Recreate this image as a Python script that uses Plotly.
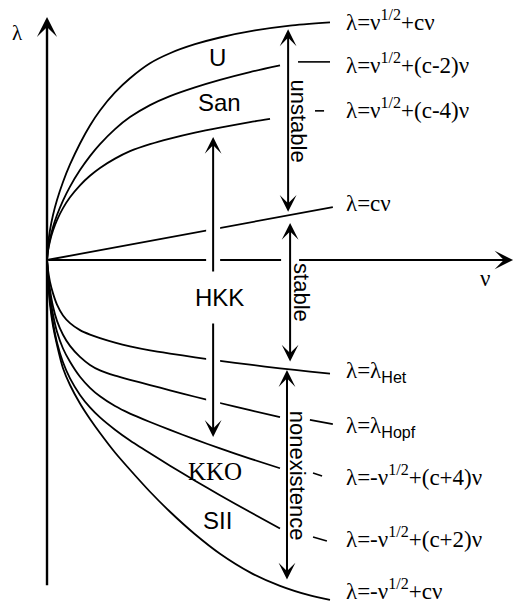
import plotly.graph_objects as go

# ---- boundary curves lambda(nu), sampled along each branch ----
nu_grid = [0, 0.035, 0.106, 0.212, 0.353, 0.565, 0.813, 1.166, 1.519, 1.873,
           2.403, 2.933, 3.640, 4.346, 5.230, 6.113, 7.173, 8.233]

nu_u = [0, 0.035, 0.106, 0.212, 0.353, 0.565, 0.813, 1.166, 1.519, 1.873,
        2.403, 2.933, 3.640, 4.346, 5.230, 6.113, 7.350, 8.587, 10.0]
lam_u = [0, 0.530, 1.060, 1.590, 2.120, 2.756, 3.375, 4.117, 4.753, 5.283,
         5.919, 6.422, 6.952, 7.306, 7.624, 7.862, 8.110, 8.283, 8.396]

nu_u2 = nu_grid
lam_u2 = [0, 0.353, 0.742, 1.166, 1.590, 2.099, 2.594, 3.177, 3.671, 4.095,
          4.625, 5.049, 5.473, 5.792, 6.101, 6.366, 6.641, 6.875]

nu_u4 = nu_grid[:-1] + [7.880]
lam_u4 = [0, 0.318, 0.671, 1.042, 1.410, 1.834, 2.217, 2.641, 2.977, 3.253,
          3.581, 3.846, 4.094, 4.292, 4.504, 4.680, 4.871, 4.984]

nu_c = [0, 10.1]
lam_c = [0, 1.87]

nu_het = nu_grid + [9.293, 10.0]
lam_het = [0, -0.353, -0.777, -1.180, -1.576, -1.958, -2.230, -2.477, -2.636, -2.760,
           -2.919, -3.051, -3.193, -3.306, -3.438, -3.562, -3.700, -3.827, -3.943, -4.014]

nu_hopf = nu_grid
lam_hopf = [0, -0.495, -1.060, -1.643, -2.152, -2.640, -3.035, -3.424, -3.707, -3.901,
            -4.087, -4.235, -4.419, -4.603, -4.832, -5.053, -5.307, -5.551]

nu_l4 = nu_grid
lam_l4 = [0, -0.565, -1.237, -1.926, -2.534, -3.127, -3.597, -4.127, -4.516, -4.816,
          -5.161, -5.426, -5.723, -6.005, -6.341, -6.659, -7.019, -7.359]

nu_l2 = nu_grid
lam_l2 = [0, -0.636, -1.413, -2.208, -2.915, -3.615, -4.184, -4.767, -5.208, -5.562,
          -5.996, -6.378, -6.830, -7.269, -7.799, -8.311, -8.905, -9.488]

nu_l = nu_grid + [9.293, 10.0]
lam_l = [0, -0.707, -1.590, -2.332, -3.004, -3.823, -4.417, -5.071, -5.618, -6.113,
         -6.802, -7.412, -8.189, -8.896, -9.691, -10.380, -11.037, -11.514, -11.853, -12.009]

curves = [
    (nu_u, lam_u), (nu_u2, lam_u2), (nu_u4, lam_u4), (nu_c, lam_c),
    (nu_het, lam_het), (nu_hopf, lam_hopf), (nu_l4, lam_l4), (nu_l2, lam_l2), (nu_l, lam_l),
]

# ---- curve labels on the right: text, lambda level, leader dash (nu0, lam0, nu1, lam1) ----
SANS_SUB = "<sub><span style='font-family:Liberation Sans'>{}</span></sub>"
label_texts = [
    "λ=ν<sup>1/2</sup>+cν",
    "λ=ν<sup>1/2</sup>+(c-2)ν",
    "λ=ν<sup>1/2</sup>+(c-4)ν",
    "λ=cν",
    "λ=λ" + SANS_SUB.format("Het"),
    "λ=λ" + SANS_SUB.format("Hopf"),
    "λ=-ν<sup>1/2</sup>+(c+4)ν",
    "λ=-ν<sup>1/2</sup>+(c+2)ν",
    "λ=-ν<sup>1/2</sup>+cν",
]
label_lam = [8.48, 6.96, 5.37, 2.01, -3.96, -5.90, -7.63, -9.82, -11.66]
leaders = [
    None,
    (8.87, 7.0, 10.0, 7.0),
    (9.47, 5.27, 9.79, 5.27),
    None,
    None,
    (9.29, -5.65, 10.1, -5.80),
    (9.40, -7.53, 9.72, -7.63),
    (9.40, -9.79, 9.89, -9.93),
    None,
]

# ---- region names ----
regions = ["U", "San", "HKK", "KKO", "SII"]
region_nu = [6.04, 6.11, 6.11, 5.94, 6.01]
region_lam = [7.14, 5.58, -1.31, -7.49, -9.19]
region_font = ["Liberation Sans", "Liberation Sans", "Liberation Sans", "Liberation Serif", "Liberation Sans"]
region_size = [24, 24, 24, 25, 24]

# ---- stability intervals (double arrows) ----
interval_names = ["unstable", "stable", "nonexistence"]
interval_nu = [8.52, 8.59, 8.48]
interval_top = [8.15, 1.31, -3.89]
interval_bottom = [1.65, -3.64, -11.34]

fig = go.Figure()

for nu, lam in curves:
    fig.add_trace(go.Scatter(x=nu, y=lam, mode="lines",
                             line=dict(color="black", width=1.8, shape="spline", smoothing=0.6),
                             hoverinfo="skip", showlegend=False))

for seg in leaders:
    if seg is None:
        continue
    fig.add_trace(go.Scatter(x=[seg[0], seg[2]], y=[seg[1], seg[3]], mode="lines",
                             line=dict(color="black", width=1.6),
                             hoverinfo="skip", showlegend=False))


def arrow(x0, y0, x1, y1, head=3, width=2.0, size=1.5, color="black", side="end"):
    fig.add_annotation(x=x1, y=y1, ax=x0, ay=y0, xref="x", yref="y", axref="x", ayref="y",
                       text="", showarrow=True, arrowhead=head, startarrowhead=head,
                       arrowwidth=width, arrowsize=size, startarrowsize=size,
                       arrowcolor=color, arrowside=side)


# coordinate axes
arrow(0, -11.55, 0, 8.59, width=2.4, size=1.4)
arrow(0, 0, 16.47, 0, width=2.2, size=1.4)

# white gaps where arrows cross the curves
hkk_nu = 5.87
arrow(hkk_nu, -0.46, hkk_nu, 4.0, head=0, width=14, color="white")
arrow(hkk_nu, -2.19, hkk_nu, -5.9, head=0, width=14, color="white")
arrow(interval_nu[1], 1.0, interval_nu[1], -3.3, head=0, width=18, color="white")

# HKK front speed arrows
arrow(hkk_nu, -0.46, hkk_nu, 4.35, width=2.0, size=1.4)
arrow(hkk_nu, -2.19, hkk_nu, -6.25, width=2.0, size=1.4)

for name, x, top, bot in zip(interval_names, interval_nu, interval_top, interval_bottom):
    arrow(x, bot, x, top, width=2.0, size=1.4, side="end+start")
    fig.add_annotation(x=x + 0.38, y=(top + bot) / 2, text=name, showarrow=False,
                       textangle=90, xanchor="center", yanchor="middle",
                       font=dict(family="Liberation Sans", size=22, color="black"))

for txt, lam in zip(label_texts, label_lam):
    fig.add_annotation(x=10.5, y=lam, text=txt, showarrow=False, xanchor="left", yanchor="middle",
                       font=dict(family="Liberation Serif", size=23, color="black"))

for txt, x, y, fam, sz in zip(regions, region_nu, region_lam, region_font, region_size):
    fig.add_annotation(x=x, y=y, text=txt, showarrow=False, xanchor="center", yanchor="middle",
                       font=dict(family=fam, size=sz, color="black"))

# axis names
fig.add_annotation(x=-1.06, y=8.02, text="λ", showarrow=False,
                   font=dict(family="Liberation Serif", size=21, color="black"))
fig.add_annotation(x=15.48, y=-0.64, text="ν", showarrow=False,
                   font=dict(family="Liberation Serif", size=23, color="black"))

fig.update_layout(
    width=515, height=606,
    margin=dict(l=0, r=0, t=0, b=0),
    paper_bgcolor="white", plot_bgcolor="white",
    xaxis=dict(range=[-1.661, 16.537], visible=False, fixedrange=True),
    yaxis=dict(range=[-12.226, 9.187], visible=False, fixedrange=True),
    showlegend=False,
)

fig.write_html("out.html")
